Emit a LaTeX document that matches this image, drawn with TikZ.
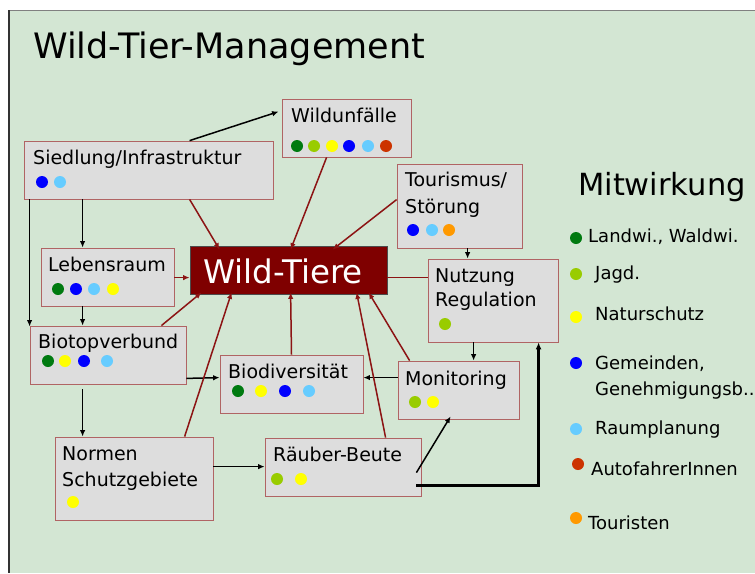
\documentclass[tikz,border=0pt]{standalone}
\usepackage{fontspec}
\setmainfont{DejaVu Sans}
\usetikzlibrary{arrows.meta,calc}
\definecolor{bgg}{HTML}{D3E6D3}
\definecolor{boxfill}{HTML}{DDDDDD}
\definecolor{boxline}{HTML}{B06464}
\definecolor{wtfill}{HTML}{7F0000}
\definecolor{redline}{HTML}{8C1414}
\definecolor{cgreen}{HTML}{007A10}
\definecolor{cyg}{HTML}{99CC00}
\definecolor{cyel}{HTML}{FFFF00}
\definecolor{cblue}{HTML}{0000FF}
\definecolor{clblue}{HTML}{66CCFF}
\definecolor{cred}{HTML}{CC3300}
\definecolor{corange}{HTML}{FF9900}
\tikzset{
  boxnode/.style={draw=boxline, fill=boxfill, rectangle, inner sep=0pt, line width=0.8pt},
  txt/.style={anchor=base west, inner sep=0pt, font=\fontsize{19}{22}\selectfont},
  legtxt/.style={anchor=base west, inner sep=0pt, font=\fontsize{18}{22}\selectfont},
  blk/.style={draw=black, line width=1.5pt, -{Latex[length=6.5pt,width=5.5pt]}},
  rdl/.style={draw=redline, line width=1.5pt, -{Latex[length=6.5pt,width=5.5pt]}},
}
\begin{document}
\begin{tikzpicture}[x=1pt,y=-1pt]
\useasboundingbox (0,0) rectangle (755,573);
\fill[white] (0,0) rectangle (755,573);
\fill[bgg] (8,10) rectangle (755,573);
\draw[gray, line width=1pt] (8,10.5) -- (755,10.5);
\draw[black!80, line width=2.2pt] (9,10) -- (9,573);

% title
\node[anchor=base west, inner sep=0pt, font=\fontsize{35}{40}\selectfont] (title) at (33,58) {Wild-Tier-Management};

% boxes
\node[boxnode, minimum width=129pt, minimum height=58pt] (wu) at (346.5,128) {};
\node[boxnode, minimum width=249pt, minimum height=58pt] (si) at (148.5,170) {};
\node[boxnode, minimum width=125pt, minimum height=84pt] (to) at (459.5,206) {};
\node[boxnode, minimum width=130pt, minimum height=83pt] (nu) at (493,300.5) {};
\node[boxnode, minimum width=133pt, minimum height=58pt] (le) at (107.5,277) {};
\node[draw=black!70, fill=wtfill, rectangle, inner sep=0pt, line width=0.8pt, minimum width=197pt, minimum height=48pt] (wt) at (288.5,270) {};
\node[boxnode, minimum width=156pt, minimum height=58pt] (bv) at (108,355) {};
\node[boxnode, minimum width=143pt, minimum height=58pt] (bd) at (291.5,384) {};
\node[boxnode, minimum width=121pt, minimum height=58pt] (mo) at (458.5,390) {};
\node[boxnode, minimum width=158pt, minimum height=83pt] (no) at (134,478.5) {};
\node[boxnode, minimum width=156pt, minimum height=58pt] (rb) at (343,467) {};

% box texts
\node[txt] (twu) at (291,122) {Wildunfälle};
\node[txt] (tsi) at (33,164) {Siedlung/Infrastruktur};
\node[txt] (tto1) at (405,186) {Tourismus/};
\node[txt] (tto2) at (405,213) {Störung};
\node[txt] (tnu1) at (435,282) {Nutzung};
\node[txt] (tnu2) at (435,306) {Regulation};
\node[txt] (tle) at (48,271) {Lebensraum};
\node[txt] (tbv) at (38,348) {Biotopverbund};
\node[txt] (tbd) at (228,378) {Biodiversität};
\node[txt] (tmo) at (405,385) {Monitoring};
\node[txt] (tno1) at (62,460) {Normen};
\node[txt] (tno2) at (62,486) {Schutzgebiete};
\node[txt] (trb) at (273,461) {Räuber-Beute};
\node[anchor=base, inner sep=0pt, text=white, font=\fontsize{32.5}{36}\selectfont] (twt) at (283,283) {Wild-Tiere};

% dots
\foreach \x/\c in {297/cgreen,314/cyg,332/cyel,349/cblue,368/clblue,386/cred} \fill[\c] (\x,146) circle[radius=6pt];
\foreach \x/\c in {42/cblue,60/clblue} \fill[\c] (\x,182) circle[radius=6pt];
\foreach \x/\c in {413/cblue,432/clblue,449/corange} \fill[\c] (\x,230) circle[radius=6pt];
\fill[cyg] (445,324) circle[radius=6pt];
\foreach \x/\c in {58/cgreen,76/cblue,94/clblue,113/cyel} \fill[\c] (\x,289) circle[radius=6pt];
\foreach \x/\c in {48/cgreen,65/cyel,84/cblue,107/clblue} \fill[\c] (\x,361) circle[radius=6pt];
\foreach \x/\c in {238/cgreen,261/cyel,285/cblue,309/clblue} \fill[\c] (\x,391) circle[radius=6pt];
\foreach \x/\c in {415/cyg,433/cyel} \fill[\c] (\x,402) circle[radius=6pt];
\fill[cyel] (73,502) circle[radius=6pt];
\foreach \x/\c in {277/cyg,301/cyel} \fill[\c] (\x,479) circle[radius=6pt];

% legend
\node[anchor=base west, inner sep=0pt, font=\fontsize{30.5}{34}\selectfont] (mit) at (578,195) {Mitwirkung};
\fill[cgreen] (576,238) circle[radius=6pt];
\node[legtxt] (l1) at (588,242) {Landwi., Waldwi.};
\fill[cyg] (576,274) circle[radius=6pt];
\node[legtxt] (l2) at (595,279) {Jagd.};
\fill[cyel] (576,317) circle[radius=6pt];
\node[legtxt] (l3) at (595,320) {Naturschutz};
\fill[cblue] (576,363) circle[radius=6pt];
\node[legtxt] (l4a) at (595,369) {Gemeinden,};
\node[legtxt] (l4b) at (595,395) {Genehmigungsb..};
\fill[clblue] (576,429) circle[radius=6pt];
\node[legtxt] (l5) at (595,434) {Raumplanung};
\fill[cred] (578,464) circle[radius=6pt];
\node[legtxt] (l6) at (591,475) {AutofahrerInnen};
\fill[corange] (576,518) circle[radius=6pt];
\node[legtxt] (l7) at (588,529) {Touristen};

% black connectors
\draw[blk] ([xshift=166pt]si.north west) -- ([xshift=-3pt,yshift=-13pt]wu.north west);
\draw[blk] ([xshift=59pt]si.south west) -- ([xshift=42pt]le.north west);
\draw[blk] ([xshift=6pt]si.south west) -- ([yshift=-1pt]bv.north west);
\draw[blk] ([xshift=42pt]le.south west) -- ([xshift=53pt]bv.north west);
\draw[blk, shorten <=5pt] ([xshift=53pt]bv.south west) -- ([xshift=28pt]no.north west);
\draw[blk] ([yshift=6pt]bv.south east) -- ([yshift=-23pt]bd.north west);
\draw[blk] ([yshift=-17pt]mo.north west) -- ([yshift=-23pt]bd.north east);
\draw[blk] ([yshift=-30pt]no.north east) -- ([yshift=-29pt]rb.north west);
\draw[blk] ([xshift=-5pt,yshift=-35pt]rb.north east) -- ([xshift=53pt,yshift=3pt]mo.south west);
\draw[draw=black, line width=2.6pt, -{Latex[length=7pt,width=6pt]}] ([xshift=-5pt,yshift=11pt]rb.south east) -| ([xshift=111pt]nu.south west);
\draw[blk] ([xshift=46pt]nu.south west) -- ([xshift=76pt]mo.north west);
\draw[blk] ([xshift=71pt]to.south west) -- ([xshift=40pt]nu.north west);

% red connectors
\draw[rdl] ([xshift=166pt]si.south west) -- ([xshift=30pt,yshift=-4pt]wt.north west);
\draw[rdl] ([xshift=45pt]wu.south west) -- ([xshift=101pt,yshift=-4pt]wt.north west);
\draw[rdl] ([yshift=-36pt]to.north west) -- ([xshift=143pt,yshift=-4pt]wt.north west);
\draw[rdl] ([yshift=-30pt]le.north east) -- ([yshift=-32pt]wt.north west);
\draw[redline, line width=1.5pt] ([yshift=-32pt]wt.north east) -- ([yshift=-19pt]nu.north west);
\draw[rdl] ([xshift=-25pt]bv.north east) -- ([xshift=12pt,yshift=2pt]wt.south west);
\draw[rdl] ([xshift=130pt]no.north west) -- ([xshift=42pt,yshift=2pt]wt.south west);
\draw[rdl] (bd.north) -- ([xshift=101pt,yshift=2pt]wt.south west);
\draw[rdl] ([xshift=121pt]rb.north west) -- ([xshift=167pt,yshift=2pt]wt.south west);
\draw[rdl] ([xshift=12pt]mo.north west) -- ([xshift=179pt,yshift=2pt]wt.south west);
\end{tikzpicture}
\end{document}
